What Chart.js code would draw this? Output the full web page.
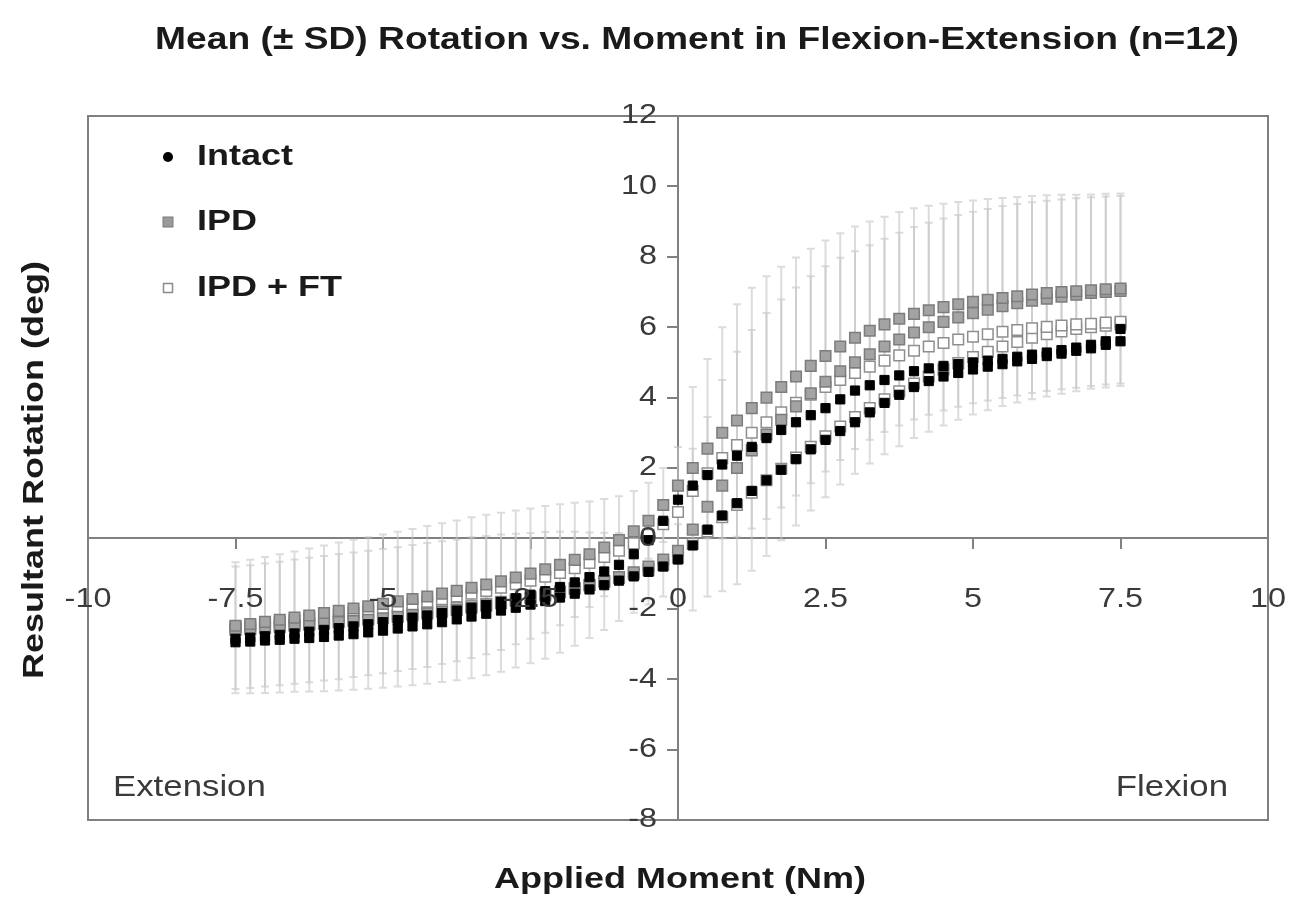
<!DOCTYPE html>
<html>
<head>
<meta charset="utf-8">
<title>Rotation vs. Moment</title>
<script src="https://cdn.jsdelivr.net/npm/chart.js@4.4.1/dist/chart.umd.min.js"></script>
<style>
  html, body { margin: 0; padding: 0; background: #fff; }
  #wrap { width: 1307px; height: 902px; }
</style>
</head>
<body>
<div id="wrap"><canvas id="rom" width="1307" height="902"></canvas></div>
<script>
// applied moment (Nm) for every sample, shared by all branches
const moment = [-7.5, -7.25, -7, -6.75, -6.5, -6.25, -6, -5.75, -5.5, -5.25, -5, -4.75, -4.5, -4.25, -4, -3.75,
  -3.5, -3.25, -3, -2.75, -2.5, -2.25, -2, -1.75, -1.5, -1.25, -1, -0.75, -0.5, -0.25, 0, 0.25, 0.5, 0.75,
  1, 1.25, 1.5, 1.75, 2, 2.25, 2.5, 2.75, 3, 3.25, 3.5, 3.75, 4, 4.25, 4.5, 4.75, 5, 5.25, 5.5, 5.75,
  6, 6.25, 6.5, 6.75, 7, 7.25, 7.5];

const seriesNames = ['Intact', 'IPD', 'IPD + FT'];

// mean rotation (deg), loading = moment increasing, unloading = moment decreasing
const intactLoading = [-2.95, -2.93, -2.9, -2.88, -2.85, -2.83, -2.8, -2.76, -2.72, -2.67, -2.62, -2.56, -2.5, -2.44,
  -2.38, -2.3, -2.22, -2.14, -2.05, -1.97, -1.88, -1.78, -1.68, -1.57, -1.45, -1.33, -1.2, -1.08, -0.95, -0.8,
  -0.6, -0.2, 0.25, 0.65, 1.0, 1.35, 1.65, 1.95, 2.25, 2.53, 2.8, 3.05, 3.3, 3.58, 3.85, 4.08, 4.3, 4.47,
  4.6, 4.7, 4.8, 4.88, 4.95, 5.03, 5.1, 5.18, 5.25, 5.33, 5.4, 5.5, 5.6];
const intactUnloading = [-2.85, -2.82, -2.78, -2.74, -2.7, -2.65, -2.6, -2.55, -2.5, -2.44, -2.38, -2.32, -2.25, -2.19,
  -2.12, -2.05, -1.97, -1.89, -1.8, -1.7, -1.6, -1.5, -1.38, -1.25, -1.1, -0.94, -0.75, -0.45, -0.05, 0.5,
  1.1, 1.5, 1.8, 2.1, 2.35, 2.6, 2.85, 3.08, 3.3, 3.5, 3.7, 3.95, 4.2, 4.35, 4.5, 4.63, 4.75, 4.83,
  4.9, 4.95, 5.0, 5.05, 5.1, 5.16, 5.22, 5.28, 5.35, 5.42, 5.5, 5.6, 5.95];

const ipdLoading = [-2.6, -2.58, -2.55, -2.52, -2.48, -2.45, -2.42, -2.38, -2.35, -2.31, -2.27, -2.23, -2.18, -2.13,
  -2.08, -2.03, -1.97, -1.91, -1.84, -1.77, -1.7, -1.62, -1.53, -1.43, -1.33, -1.22, -1.1, -0.96, -0.8, -0.6,
  -0.35, 0.25, 0.9, 1.5, 2.0, 2.5, 2.95, 3.37, 3.75, 4.12, 4.45, 4.75, 5.0, 5.23, 5.45, 5.65, 5.85, 6.0,
  6.15, 6.28, 6.4, 6.5, 6.6, 6.68, 6.75, 6.81, 6.87, 6.92, 6.97, 7.0, 7.03];
const ipdUnloading = [-2.48, -2.43, -2.37, -2.31, -2.25, -2.19, -2.12, -2.06, -1.99, -1.93, -1.86, -1.79, -1.72, -1.65,
  -1.57, -1.49, -1.4, -1.31, -1.22, -1.11, -1.0, -0.88, -0.75, -0.61, -0.45, -0.26, -0.05, 0.2, 0.5, 0.95,
  1.5, 2.0, 2.55, 3.0, 3.35, 3.7, 4.0, 4.3, 4.6, 4.9, 5.18, 5.45, 5.7, 5.9, 6.08, 6.24, 6.38, 6.48,
  6.57, 6.65, 6.72, 6.78, 6.83, 6.88, 6.93, 6.97, 7.0, 7.02, 7.05, 7.08, 7.1];

const ipdFtLoading = [-2.55, -2.53, -2.5, -2.47, -2.44, -2.41, -2.38, -2.34, -2.3, -2.26, -2.22, -2.18, -2.13, -2.08,
  -2.03, -1.98, -1.92, -1.86, -1.8, -1.73, -1.66, -1.58, -1.5, -1.41, -1.32, -1.22, -1.12, -1.01, -0.9, -0.75,
  -0.55, -0.15, 0.2, 0.6, 0.95, 1.3, 1.65, 1.98, 2.3, 2.6, 2.9, 3.18, 3.45, 3.7, 3.95, 4.18, 4.4, 4.6,
  4.8, 4.98, 5.15, 5.3, 5.45, 5.58, 5.7, 5.8, 5.88, 5.95, 6.0, 6.04, 6.08];
const ipdFtUnloading = [-2.5, -2.46, -2.42, -2.38, -2.33, -2.28, -2.23, -2.18, -2.12, -2.06, -2.0, -1.94, -1.87, -1.8,
  -1.73, -1.65, -1.57, -1.49, -1.4, -1.3, -1.2, -1.09, -0.98, -0.85, -0.7, -0.53, -0.35, -0.14, 0.1, 0.4,
  0.75, 1.35, 1.85, 2.28, 2.65, 3.0, 3.3, 3.58, 3.85, 4.08, 4.3, 4.5, 4.7, 4.88, 5.05, 5.2, 5.33, 5.45,
  5.55, 5.65, 5.73, 5.8, 5.87, 5.92, 5.97, 6.01, 6.05, 6.08, 6.1, 6.13, 6.15];

// standard deviation of the IPD rotation at each moment
const ipdSd = [1.8, 1.82, 1.84, 1.86, 1.88, 1.9, 1.92, 1.94, 1.95, 1.96, 1.97, 1.98, 1.99, 2.0, 2.0, 2.0,
  2.0, 1.98, 1.95, 1.9, 1.85, 1.8, 1.72, 1.62, 1.5, 1.38, 1.25, 1.15, 1.08, 1.05, 1.1, 2.3, 2.55, 3.0,
  3.3, 3.42, 3.45, 3.42, 3.38, 3.33, 3.28, 3.22, 3.16, 3.1, 3.06, 3.03, 3.0, 2.97, 2.94, 2.91, 2.88, 2.86,
  2.84, 2.82, 2.8, 2.78, 2.76, 2.74, 2.72, 2.71, 2.7];

const xTicks = { min: -10, max: 10, step: 2.5 };
const yTicks = { min: -8, max: 12, step: 2 };

// one loop per specimen state: loading branch then unloading branch back down
function loop(loading, unloading) {
  const up = moment.map((m, i) => ({ x: m, y: loading[i] }));
  const down = moment.map((m, i) => ({ x: m, y: unloading[i] })).reverse();
  return up.concat(down);
}

const AXIS_GREY = '#808080';
const STRETCH = 1.2;

function drawText(ctx, text, x, y, font, align, color, rotate) {
  ctx.save();
  ctx.translate(x, y);
  if (rotate) ctx.rotate(rotate);
  ctx.scale(STRETCH, 1);
  ctx.font = font;
  ctx.fillStyle = color;
  ctx.textAlign = align;
  ctx.textBaseline = 'middle';
  ctx.fillText(text, 0, 0);
  ctx.restore();
}

const errorBars = {
  id: 'errorBars',
  beforeDatasetsDraw(chart) {
    const { ctx, chartArea: a, scales: { x, y } } = chart;
    ctx.save();
    ctx.beginPath();
    ctx.rect(a.left, a.top, a.width, a.height);
    ctx.clip();
    ctx.strokeStyle = 'rgba(196,196,196,0.6)';
    ctx.lineWidth = 2;
    [ipdLoading, ipdUnloading].forEach(branch => {
      branch.forEach((v, i) => {
        const px = x.getPixelForValue(moment[i]);
        const top = y.getPixelForValue(v + ipdSd[i]);
        const bot = y.getPixelForValue(v - ipdSd[i]);
        ctx.beginPath();
        ctx.moveTo(px, top); ctx.lineTo(px, bot);
        ctx.moveTo(px - 4, top); ctx.lineTo(px + 4, top);
        ctx.moveTo(px - 4, bot); ctx.lineTo(px + 4, bot);
        ctx.stroke();
      });
    });
    ctx.restore();
  }
};

const frameAndText = {
  id: 'frameAndText',
  afterDraw(chart) {
    const { ctx, chartArea: a, scales: { x, y } } = chart;

    // plot frame
    ctx.save();
    ctx.strokeStyle = AXIS_GREY;
    ctx.lineWidth = 2;
    ctx.strokeRect(a.left, a.top, a.width, a.height);
    ctx.restore();

    // tick labels next to the centred axes
    const x0 = x.getPixelForValue(0);
    const y0 = y.getPixelForValue(0);
    const tickFont = '27px "Liberation Sans", Arial, sans-serif';
    x.ticks.forEach(t => {
      drawText(ctx, String(t.value), x.getPixelForValue(t.value), y0 + 61, tickFont, 'center', '#3a3a3a');
    });
    y.ticks.forEach(t => {
      drawText(ctx, String(t.value), x0 - 21, y.getPixelForValue(t.value), tickFont, 'right', '#3a3a3a');
    });

    const bold = '30px "Liberation Sans", Arial, sans-serif';
    drawText(ctx, 'Mean (\u00b1 SD) Rotation vs. Moment in Flexion-Extension (n=12)', 697, 40, 'bold 31px "Liberation Sans", Arial, sans-serif', 'center', '#1a1a1a');
    drawText(ctx, 'Applied Moment (Nm)', 680, 880, 'bold ' + bold, 'center', '#1a1a1a');
    drawText(ctx, 'Resultant Rotation (deg)', 35, 470, 'bold ' + bold, 'center', '#1a1a1a', -Math.PI / 2);

    drawText(ctx, 'Extension', a.left + 25, a.bottom - 32, '29px "Liberation Sans", Arial, sans-serif', 'left', '#3a3a3a');
    drawText(ctx, 'Flexion', a.right - 40, a.bottom - 32, '29px "Liberation Sans", Arial, sans-serif', 'right', '#3a3a3a');

    // legend in the upper-left corner of the plot
    const lx = a.left + 80;
    const rows = [a.top + 41, a.top + 106, a.top + 172];
    ctx.save();
    ctx.fillStyle = '#000';
    ctx.beginPath();
    ctx.arc(lx, rows[0], 5, 0, Math.PI * 2);
    ctx.fill();
    ctx.fillStyle = '#9a9a9a';
    ctx.strokeStyle = '#7a7a7a';
    ctx.lineWidth = 1;
    ctx.fillRect(lx - 5, rows[1] - 5, 10, 10);
    ctx.strokeRect(lx - 5, rows[1] - 5, 10, 10);
    ctx.fillStyle = '#fff';
    ctx.strokeStyle = '#8a8a8a';
    ctx.lineWidth = 1.5;
    ctx.fillRect(lx - 4.5, rows[2] - 4.5, 9, 9);
    ctx.strokeRect(lx - 4.5, rows[2] - 4.5, 9, 9);
    ctx.restore();
    seriesNames.forEach((name, i) => {
      drawText(ctx, name, lx + 29, rows[i], 'bold ' + bold, 'left', '#1a1a1a');
    });
  }
};

new Chart(document.getElementById('rom'), {
  type: 'scatter',
  data: {
    datasets: [
      {
        label: seriesNames[0],
        data: loop(intactLoading, intactUnloading),
        pointStyle: 'rect',
        pointRadius: 6.5,
        backgroundColor: '#000',
        borderColor: '#000',
        borderWidth: 1
      },
      {
        label: seriesNames[1],
        data: loop(ipdLoading, ipdUnloading),
        pointStyle: 'rect',
        pointRadius: 7.5,
        backgroundColor: '#a3a3a3',
        borderColor: '#7c7c7c',
        borderWidth: 1.5
      },
      {
        label: seriesNames[2],
        data: loop(ipdFtLoading, ipdFtUnloading),
        pointStyle: 'rect',
        pointRadius: 7.5,
        backgroundColor: '#ffffff',
        borderColor: '#8e8e8e',
        borderWidth: 1.5
      }
    ]
  },
  options: {
    responsive: false,
    devicePixelRatio: 1,
    animation: false,
    layout: { padding: { left: 88, right: 39, top: 116, bottom: 82 } },
    plugins: {
      legend: { display: false },
      tooltip: { enabled: false },
      title: { display: false }
    },
    scales: {
      x: {
        type: 'linear',
        min: xTicks.min,
        max: xTicks.max,
        position: { y: 0 },
        ticks: { stepSize: xTicks.step, display: false },
        grid: { drawOnChartArea: false, drawTicks: true, tickLength: 10, color: AXIS_GREY, lineWidth: 2 },
        border: { display: true, color: AXIS_GREY, width: 2 }
      },
      y: {
        type: 'linear',
        min: yTicks.min,
        max: yTicks.max,
        position: { x: 0 },
        ticks: { stepSize: yTicks.step, display: false },
        grid: { drawOnChartArea: false, drawTicks: true, tickLength: 10, color: AXIS_GREY, lineWidth: 2 },
        border: { display: true, color: AXIS_GREY, width: 2 }
      }
    }
  },
  plugins: [errorBars, frameAndText]
});
</script>
</body>
</html>
